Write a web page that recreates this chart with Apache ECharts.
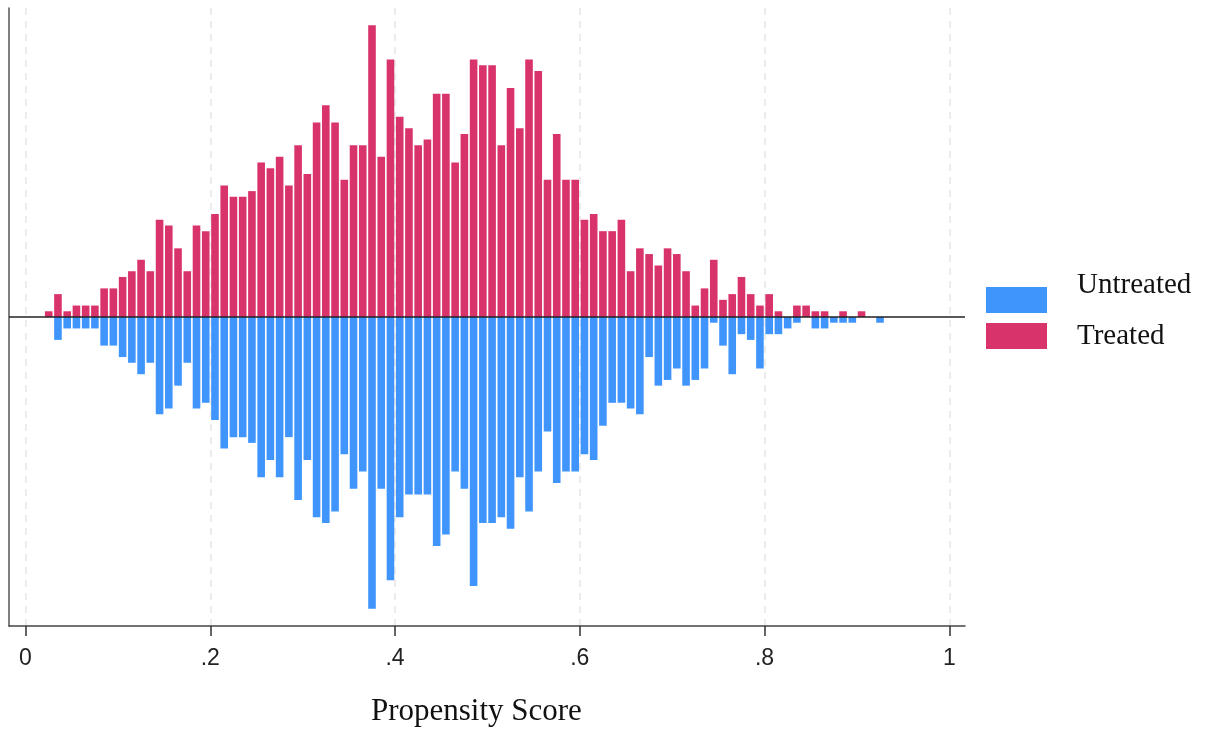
<!DOCTYPE html>
<html>
<head>
<meta charset="utf-8">
<script src="https://cdn.jsdelivr.net/npm/echarts@6/dist/echarts.min.js"></script>
<style>
html,body{margin:0;padding:0;background:#fff;}
#chart{width:1207px;height:735px;}
</style>
</head>
<body>
<div id="chart"></div>
<script>
// Bin centers (bin width 0.01)
const binCenters = [0.025,0.035,0.045,0.055,0.065,0.075,0.085,0.095,0.105,0.115,0.125,0.135,0.145,0.155,0.165,0.175,0.185,0.195,0.205,0.215,0.225,0.235,0.245,0.255,0.265,0.275,0.285,0.295,0.305,0.315,0.325,0.335,0.345,0.355,0.365,0.375,0.385,0.395,0.405,0.415,0.425,0.435,0.445,0.455,0.465,0.475,0.485,0.495,0.505,0.515,0.525,0.535,0.545,0.555,0.565,0.575,0.585,0.595,0.605,0.615,0.625,0.635,0.645,0.655,0.665,0.675,0.685,0.695,0.705,0.715,0.725,0.735,0.745,0.755,0.765,0.775,0.785,0.795,0.805,0.815,0.825,0.835,0.845,0.855,0.865,0.875,0.885,0.895,0.905,0.915,0.925];
const treated = [1,4,1,2,2,2,5,5,7,8,10,8,17,16,12,8,16,15,18,23,21,21,22,27,26,28,23,30,25,34,37,34,24,30,30,51,28,45,35,33,30,31,39,39,27,32,45,44,44,30,40,33,45,43,24,32,24,24,17,18,15,15,17,8,12,11,9,12,11,8,2,5,10,3,4,7,4,2,4,1,0,2,2,1,1,0,1,0,1,0,0];
const untreated = [0,4,2,2,2,2,5,5,7,8,10,8,17,16,12,8,16,15,18,23,21,21,22,28,25,28,21,32,25,35,36,34,24,30,27,51,30,46,35,31,31,31,40,38,27,30,47,36,36,35,37,28,34,27,20,29,27,27,24,25,19,15,15,16,17,7,12,11,9,12,11,9,1,5,10,3,4,9,3,3,2,1,0,2,2,1,1,1,0,0,1];
const tickValues = [0, 0.2, 0.4, 0.6, 0.8, 1];
const tickLabels = ['0', '.2', '.4', '.6', '.8', '1'];
const seriesNames = ['Untreated', 'Treated'];

const chart = echarts.init(document.getElementById('chart'), null, {renderer: 'canvas'});

const untreatedData = binCenters.map((c, i) => [c, untreated[i] === 0 ? null : -untreated[i]]);
const treatedData = binCenters.map((c, i) => [c, treated[i] === 0 ? null : treated[i]]);

const option = {
  animation: false,
  backgroundColor: '#ffffff',
  grid: [
    {left: 9, right: 242, top: 8, bottom: 109},
    {left: 25.5, right: 257.7, top: 8, bottom: 109}
  ],
  xAxis: [
    {
      type: 'value', gridIndex: 0, min: -0.018, max: 1.017,
      axisLine: {show: true, onZero: false, lineStyle: {color: '#444', width: 1.5}},
      axisTick: {show: false}, axisLabel: {show: false}, splitLine: {show: false}
    },
    {
      type: 'value', gridIndex: 1, min: 0, max: 1, interval: 0.2,
      axisLine: {show: false, onZero: false},
      axisTick: {show: true, length: 10, lineStyle: {color: '#333', width: 1.5}},
      axisLabel: {
        show: true, margin: 21, fontFamily: 'Liberation Sans', fontSize: 23, color: '#222',
        formatter: function (v) {
          const idx = tickValues.findIndex(t => Math.abs(t - v) < 1e-9);
          return idx >= 0 ? tickLabels[idx] : '';
        }
      },
      splitLine: {show: true, lineStyle: {color: '#e6e6e6', width: 1.5, type: [7, 6]}},
      name: 'Propensity Score', nameLocation: 'middle', nameGap: 70,
      nameTextStyle: {fontFamily: 'Liberation Serif', fontSize: 31, color: '#111', padding: [0, 22, 0, 0]}
    }
  ],
  yAxis: [
    {
      type: 'value', gridIndex: 0, min: -54, max: 54,
      axisLine: {show: true, onZero: false, lineStyle: {color: '#555', width: 1.5}},
      axisTick: {show: false}, axisLabel: {show: false}, splitLine: {show: false}
    },
    {
      type: 'value', gridIndex: 1, min: -54, max: 54, show: false,
      axisLine: {show: false, onZero: false}
    }
  ],
  legend: {
    orient: 'vertical', left: 986, top: 270, padding: 0,
    itemWidth: 61, itemHeight: 26, itemGap: -9, icon: 'rect',
    data: seriesNames,
    formatter: function (name) { return name === seriesNames[0] ? name + '\n ' : name; },
    textStyle: {fontFamily: 'Liberation Serif', fontSize: 29, lineHeight: 30, color: '#111', padding: [0, 0, 0, 25]}
  },
  series: [
    {
      name: seriesNames[0], type: 'bar', xAxisIndex: 0, yAxisIndex: 0,
      stack: 'total', barWidth: 7.6,
      itemStyle: {color: '#3f95fc'},
      data: untreatedData
    },
    {
      name: seriesNames[1], type: 'bar', xAxisIndex: 0, yAxisIndex: 0,
      stack: 'total', barWidth: 7.6,
      itemStyle: {color: '#d9336b'},
      data: treatedData,
      markLine: {
        silent: true, symbol: ['none', 'none'],
        label: {show: false},
        lineStyle: {color: '#222', width: 1.5, type: 'solid'},
        data: [{yAxis: 0}]
      }
    }
  ]
};
chart.setOption(option);
</script>
</body>
</html>
